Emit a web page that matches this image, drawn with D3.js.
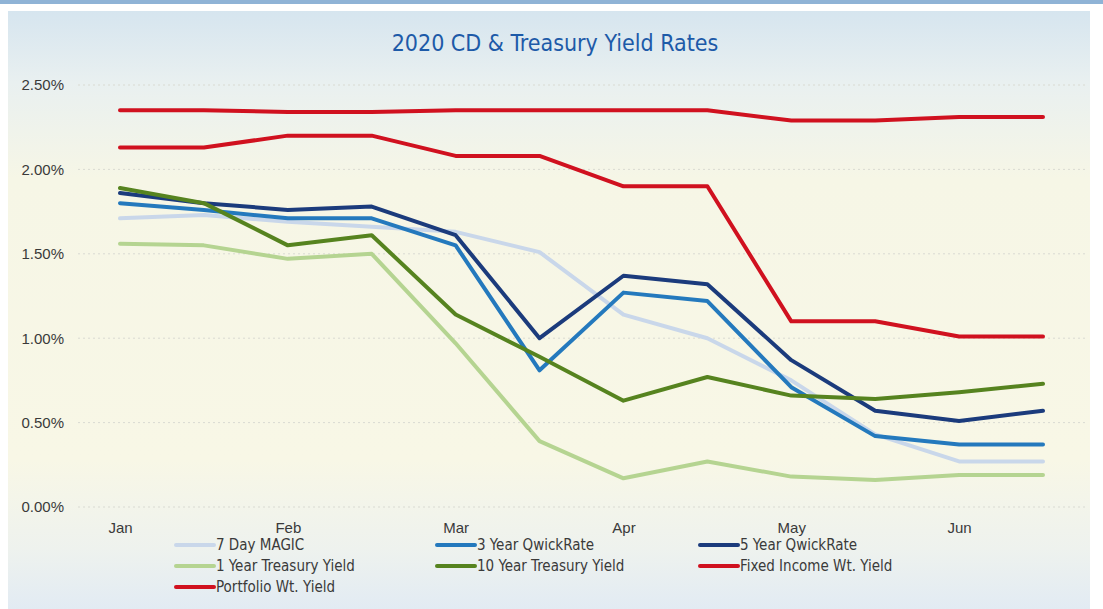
<!DOCTYPE html>
<html><head><meta charset="utf-8">
<script src="https://cdn.jsdelivr.net/npm/d3@7"></script>
<style>
html,body{margin:0;padding:0;background:#fff;}
svg{display:block;font-family:"Liberation Sans Narrow","DejaVu Sans Condensed",sans-serif;}
</style></head><body>
<script>
const categories = ["Jan","","Feb","","Mar","","Apr","","May","","Jun",""];
const tickLabels = ["0.00%","0.50%","1.00%","1.50%","2.00%","2.50%"];
const tickValues = [0,0.5,1.0,1.5,2.0,2.5];
const magic7 = [1.71,1.73,1.69,1.66,1.63,1.51,1.14,1.00,0.75,0.43,0.27,0.27];
const qwick3 = [1.80,1.76,1.71,1.71,1.55,0.81,1.27,1.22,0.71,0.42,0.37,0.37];
const qwick5 = [1.86,1.80,1.76,1.78,1.61,1.00,1.37,1.32,0.87,0.57,0.51,0.57];
const treas1 = [1.56,1.55,1.47,1.50,0.97,0.39,0.17,0.27,0.18,0.16,0.19,0.19];
const treas10 = [1.89,1.80,1.55,1.61,1.14,0.89,0.63,0.77,0.66,0.64,0.68,0.73];
const fixedIncome = [2.35,2.35,2.34,2.34,2.35,2.35,2.35,2.35,2.29,2.29,2.31,2.31];
const portfolio = [2.13,2.13,2.20,2.20,2.08,2.08,1.90,1.90,1.10,1.10,1.01,1.01];
const seriesNames = ["7 Day MAGIC","3 Year QwickRate","5 Year QwickRate","1 Year Treasury Yield","10 Year Treasury Yield","Fixed Income Wt. Yield","Portfolio Wt. Yield"];
const seriesData = [magic7,qwick3,qwick5,treas1,treas10,fixedIncome,portfolio];
const colors = ["#c9d7ea","#2479bd","#1b3b7c","#b5d491","#56831f","#d0111f","#d0111f"];

const W=1103,H=609;
const svg=d3.select("body").append("svg").attr("width",W).attr("height",H);
const defs=svg.append("defs");
const g=defs.append("linearGradient").attr("id","bg").attr("x1",0).attr("y1",0).attr("x2",0).attr("y2",1);
[[0,"#d6e5ef"],[0.12,"#e9f0f0"],[0.28,"#f6f6e6"],[0.75,"#f8f7e6"],[0.9,"#eef2ee"],[1,"#e2ebf3"]].forEach(s=>g.append("stop").attr("offset",s[0]).attr("stop-color",s[1]));
svg.append("rect").attr("x",0).attr("y",0).attr("width",W).attr("height",4).attr("fill","#8fb3d6");
svg.append("rect").attr("x",8).attr("y",11).attr("width",1082).attr("height",H-11).attr("fill","url(#bg)");

const x=d3.scalePoint().domain(d3.range(categories.length)).range([120,1043]);
const y=d3.scaleLinear().domain([0,2.5]).range([507,85]);

// gridlines
svg.append("g").selectAll("line").data(tickValues).join("line")
 .attr("x1",78).attr("x2",1085).attr("y1",d=>y(d)).attr("y2",d=>y(d))
 .attr("stroke","#d9dad2").attr("stroke-width",1).attr("stroke-dasharray","2,3");

// y axis labels
const yAxis=d3.axisLeft(y).tickValues(tickValues).tickFormat((d,i)=>tickLabels[i]).tickSize(0).tickPadding(0);
const ya=svg.append("g").attr("transform","translate(64,0)").call(yAxis);
ya.select(".domain").remove();
ya.selectAll("text").attr("font-size",15).attr("fill","#3a3a3a").attr("font-family","'Liberation Sans Narrow',sans-serif");

// x axis labels
const xAxis=d3.axisBottom(x).tickFormat(i=>categories[i]).tickSize(0).tickPadding(0);
const xa=svg.append("g").attr("transform","translate(0,522)").call(xAxis);
xa.select(".domain").remove();
xa.selectAll("text").attr("font-size",15).attr("fill","#3a3a3a").attr("font-family","'Liberation Sans Narrow',sans-serif");

// title
svg.append("text").attr("x",555).attr("y",51).attr("text-anchor","middle")
 .attr("font-size",23).attr("fill","#1d5aa8").text("2020 CD & Treasury Yield Rates");

// lines
const line=d3.line().x((d,i)=>x(i)).y(d=>y(d));
seriesData.forEach((s,k)=>{
  svg.append("path").datum(s).attr("d",line).attr("fill","none")
   .attr("stroke",colors[k]).attr("stroke-width",4).attr("stroke-linejoin","round").attr("stroke-linecap","round");
});

// legend
const legX=[176,437,700], legY=[545,566,587];
seriesNames.forEach((n,k)=>{
  const lx=legX[k%3], ly=legY[Math.floor(k/3)];
  svg.append("line").attr("x1",lx).attr("x2",lx+38).attr("y1",ly).attr("y2",ly)
   .attr("stroke",colors[k]).attr("stroke-width",4).attr("stroke-linecap","round");
  svg.append("text").attr("x",lx+40).attr("y",ly+5).attr("font-size",15).attr("fill","#3a3a3a").text(n);
});
</script>
</body></html>
